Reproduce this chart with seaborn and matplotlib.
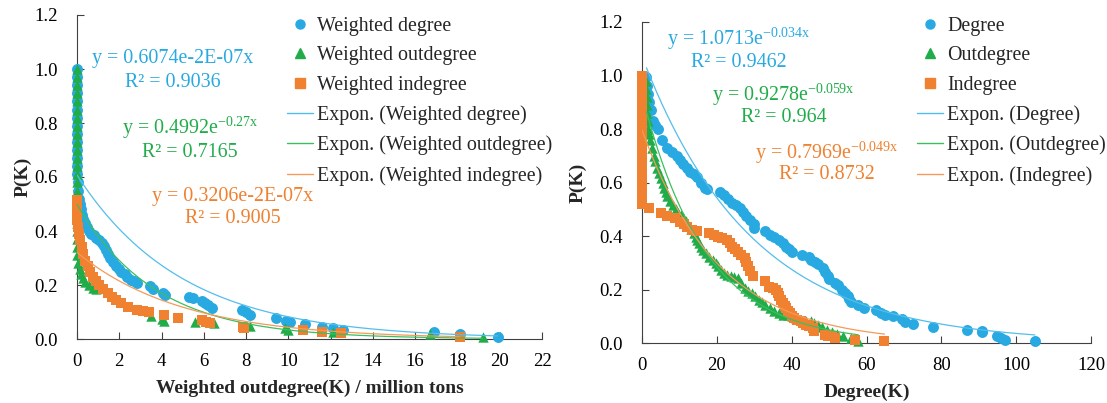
import numpy as np
import matplotlib
matplotlib.use("Agg")
import matplotlib.pyplot as plt
import seaborn as sns
from matplotlib.lines import Line2D

# ---- left panel: weighted degree distributions (million tons) ----
wdeg_x = [0, 0, 0, 0, 0, 0, 0, 0, 0, 0, 0, 0, 0, 0, 0.03, 0.06, 0.1, 0.14, 0.18, 0.22,
          0.27, 0.33, 0.39, 0.47, 0.55, 0.65, 0.79, 0.9, 1.05, 1.2, 1.26, 1.35, 1.45, 1.57,
          1.7, 1.85, 1.97, 2.1, 2.25, 2.36, 2.55, 2.7, 2.83, 3.46, 3.6, 4.05, 4.15, 5.3, 5.5,
          5.9, 6.05, 6.2, 6.4, 7.8, 8.0, 8.2, 9.4, 9.9, 10.1, 10.8, 11.6, 12.1, 12.6, 16.9,
          18.1, 19.9]
wdeg_y = [1.0, 0.97, 0.94, 0.91, 0.88, 0.85, 0.82, 0.79, 0.76, 0.73, 0.70, 0.67, 0.64, 0.61,
          0.58, 0.55, 0.52, 0.50, 0.48, 0.46, 0.445, 0.435, 0.43, 0.415, 0.40, 0.39, 0.385,
          0.375, 0.365, 0.355, 0.345, 0.33, 0.315, 0.30, 0.285, 0.27, 0.26, 0.25, 0.24, 0.23,
          0.22, 0.215, 0.207, 0.195, 0.185, 0.17, 0.163, 0.157, 0.152, 0.14, 0.133, 0.125,
          0.116, 0.108, 0.1, 0.09, 0.078, 0.068, 0.063, 0.056, 0.046, 0.04, 0.034, 0.025,
          0.019, 0.009]

wout_x = [0, 0, 0, 0, 0, 0, 0, 0, 0, 0, 0, 0, 0, 0, 0, 0, 0, 0, 0, 0, 0, 0, 0, 0,
          0.05, 0.12, 0.2, 0.3, 0.4, 0.55, 0.74, 0.9, 3.5, 4.0, 4.1, 5.56, 6.5, 8.2, 9.86,
          10.0, 12.1, 16.7, 19.2]
wout_y = [1.0, 0.97, 0.94, 0.91, 0.88, 0.85, 0.82, 0.79, 0.76, 0.73, 0.70, 0.67, 0.64, 0.61,
          0.58, 0.55, 0.52, 0.49, 0.46, 0.43, 0.40, 0.37, 0.34, 0.31,
          0.28, 0.26, 0.24, 0.225, 0.21, 0.2, 0.19, 0.185, 0.085, 0.075, 0.068, 0.064, 0.058,
          0.05, 0.04, 0.033, 0.027, 0.017, 0.009]

win_x = [0, 0, 0, 0, 0.05, 0.1, 0.15, 0.22, 0.3, 0.4, 0.5, 0.6, 0.75, 0.9, 1.05, 1.25, 1.45,
         1.65, 1.85, 2.1, 2.4, 2.85, 3.1, 3.4, 4.1, 4.8, 5.9, 6.1, 6.3, 7.85, 7.9, 10.7, 11.6,
         12.5, 18.1]
win_y = [0.515, 0.49, 0.465, 0.44, 0.415, 0.39, 0.365, 0.34, 0.315, 0.29, 0.27, 0.25, 0.23,
         0.215, 0.2, 0.185, 0.17, 0.157, 0.145, 0.132, 0.118, 0.108, 0.104, 0.1, 0.089, 0.078,
         0.07, 0.064, 0.058, 0.046, 0.04, 0.033, 0.027, 0.021, 0.009]

# ---- right panel: degree distributions ----
deg_x = [1.2, 1.4, 1.6, 1.8, 2.3, 3.0, 3.6, 4.3, 5.4, 6.6, 8.0, 9.3, 10.2, 11.0, 12.0, 12.8,
         13.8, 14.6, 15.7, 16.8, 17.3, 20.8, 21.8, 23.0, 24.1, 25.2, 26.1, 27.0, 27.8, 28.8,
         29.8, 30.0, 33.0, 34.2, 35.3, 36.5, 37.6, 38.6, 39.4, 40.2, 42.8, 44.5, 45.2, 46.3,
         47.0, 48.5, 49.0, 49.6, 50.0, 51.5, 52.5, 53.5, 54.3, 55.0, 55.3, 55.8, 57.8, 59.2,
         62.5, 64.0, 65.0, 67.2, 69.5, 70.4, 72.3, 77.9, 86.8, 90.8, 91.0, 95.0, 96.0, 97.1,
         105.0]
deg_y = [0.995, 0.96, 0.93, 0.90, 0.87, 0.83, 0.815, 0.80, 0.76, 0.73, 0.715, 0.70, 0.685,
         0.67, 0.655, 0.64, 0.63, 0.62, 0.60, 0.58, 0.575, 0.565, 0.555, 0.54, 0.525, 0.515,
         0.505, 0.49, 0.475, 0.46, 0.445, 0.43, 0.417, 0.405, 0.395, 0.385, 0.372, 0.36, 0.35,
         0.342, 0.33, 0.32, 0.312, 0.303, 0.295, 0.28, 0.265, 0.25, 0.24, 0.225, 0.215, 0.2,
         0.188, 0.175, 0.165, 0.155, 0.143, 0.132, 0.122, 0.113, 0.106, 0.1, 0.09, 0.078, 0.07,
         0.058, 0.05, 0.045, 0.04, 0.028, 0.02, 0.012, 0.006]

out_x = [1.2, 1.2, 1.3, 1.3, 1.4, 1.5, 1.6, 1.8, 2.2, 2.6, 3.1, 3.5, 4.0, 4.5, 5.0, 5.5, 5.9,
         6.4, 6.8, 7.5, 8.2, 9.0, 9.6, 10.3, 11.0, 11.7, 12.4, 13.1, 13.8, 14.3, 14.8, 15.3,
         15.7, 16.4, 17.1, 18.0, 19.0, 19.7, 20.4, 21.1, 21.8, 22.8, 23.7, 24.6, 25.6, 26.5,
         27.4, 28.3, 29.3, 30.2, 31.2, 32.1, 33.0, 34.2, 35.4, 36.5, 37.7, 38.9, 40.0, 41.2,
         42.4, 43.8, 45.2, 46.1, 47.0, 48.0, 49.4, 50.8, 52.2, 53.6, 55.9, 57.8]
out_y = [0.98, 0.95, 0.92, 0.89, 0.86, 0.83, 0.80, 0.78, 0.76, 0.73, 0.70, 0.68, 0.655, 0.635,
         0.615, 0.60, 0.58, 0.565, 0.55, 0.53, 0.515, 0.50, 0.485, 0.478, 0.47, 0.455, 0.44,
         0.425, 0.41, 0.398, 0.386, 0.373, 0.36, 0.348, 0.336, 0.323, 0.311, 0.298, 0.286,
         0.273, 0.261, 0.255, 0.249, 0.246, 0.243, 0.225, 0.205, 0.196, 0.187, 0.175, 0.162,
         0.152, 0.143, 0.13, 0.118, 0.112, 0.106, 0.103, 0.1, 0.094, 0.087, 0.084, 0.081,
         0.074, 0.068, 0.06, 0.05, 0.04, 0.032, 0.025, 0.019, 0.006]

in_x = [0, 0, 0, 0, 0, 0, 0, 0, 0, 0, 0, 0, 0, 0, 0, 0, 0, 2.0, 5.0, 6.8, 8.7, 10.1, 11.2,
        12.0, 13.4, 14.8, 18.0, 19.3, 20.4, 21.5, 22.7, 23.5, 24.1, 24.9, 25.6, 26.5, 27.4,
        27.9, 28.4, 28.8, 29.7, 33.0, 34.0, 35.0, 35.8, 36.3, 36.7, 37.2, 37.7, 38.2, 38.6,
        39.0, 39.5, 40.0, 40.5, 41.5, 42.4, 43.1, 43.8, 44.7, 45.6, 46.1, 48.9, 49.8, 50.8,
        51.5, 56.9, 64.8]
in_y = [1.0, 0.97, 0.94, 0.91, 0.88, 0.85, 0.82, 0.79, 0.76, 0.73, 0.70, 0.67, 0.64, 0.61,
        0.58, 0.55, 0.52, 0.505, 0.485, 0.473, 0.466, 0.454, 0.445, 0.435, 0.423, 0.417, 0.41,
        0.404, 0.398, 0.392, 0.386, 0.373, 0.36, 0.351, 0.342, 0.33, 0.317, 0.301, 0.286,
        0.27, 0.249, 0.23, 0.21, 0.205, 0.199, 0.186, 0.174, 0.161, 0.149, 0.14, 0.131, 0.121,
        0.112, 0.102, 0.093, 0.087, 0.081, 0.075, 0.068, 0.062, 0.056, 0.044, 0.031, 0.028,
        0.025, 0.019, 0.012, 0.006]

# exponential trendline coefficients (a, b) as printed on the chart (b per million tons on the left)
left_fits = [(0.6074, 0.2), (0.4992, 0.27), (0.3206, 0.2)]
right_fits = [(1.0713, 0.034), (0.9278, 0.059), (0.7969, 0.049)]

left_eqs = ["y = 0.6074e-2E-07x", r"y = 0.4992e$^{\mathregular{-0.27x}}$", "y = 0.3206e-2E-07x"]
left_r2 = ["R² = 0.9036", "R² = 0.7165", "R² = 0.9005"]
right_eqs = [r"y = 1.0713e$^{\mathregular{-0.034x}}$", r"y = 0.9278e$^{\mathregular{-0.059x}}$",
             r"y = 0.7969e$^{\mathregular{-0.049x}}$"]
right_r2 = ["R² = 0.9462", "R² = 0.964", "R² = 0.8732"]

left_names = ["Weighted degree", "Weighted outdegree", "Weighted indegree"]
right_names = ["Degree", "Outdegree", "Indegree"]

colors = ["#29A9E1", "#21AC4A", "#EF8130"]
line_colors = ["#52BEEC", "#3CBF5E", "#F49A5A"]
markers = ["o", "^", "s"]
sizes = [62, 56, 50]

sns.set_style("ticks")
plt.rcParams["font.family"] = ["Liberation Serif", "DejaVu Serif"]
plt.rcParams["mathtext.fontset"] = "custom"
plt.rcParams["mathtext.rm"] = "Liberation Serif"

fig = plt.figure(figsize=(11.07, 4.03), dpi=100)
ax1 = fig.add_axes([77 / 1107, 64 / 403, 465 / 1107, 324 / 403])
ax2 = fig.add_axes([642 / 1107, 60 / 403, 449 / 1107, 321 / 403])

FS = 14.4


def draw_panel(ax, series, fits, eqs, r2s, names, txt_pos, xmax, xstep, xlabel, leg_x, ypad):
    for i, (xs, ys) in enumerate(series):
        sns.scatterplot(x=xs, y=ys, ax=ax, marker=markers[i], color=colors[i], s=sizes[i],
                        linewidth=0, clip_on=False, zorder=3)
    for i, (xs, ys) in enumerate(series):
        a, b = fits[i]
        xx = np.linspace(min(xs), max(xs), 300)
        ax.plot(xx, a * np.exp(-b * xx), color=line_colors[i], lw=0.9, zorder=4)
    for i in range(3):
        tx, ty1, ty2 = txt_pos[i]
        ax.text(tx, ty1, eqs[i], color=colors[i], fontsize=FS, ha="center", va="center")
        ax.text(tx, ty2, r2s[i], color=colors[i], fontsize=FS, ha="center", va="center")

    ax.set_xlim(0, xmax)
    ax.set_ylim(0, 1.2)
    ax.set_xticks(np.arange(0, xmax + 0.1, xstep))
    ax.set_yticks(np.arange(0, 1.21, 0.2))
    ax.yaxis.set_major_formatter(matplotlib.ticker.FormatStrFormatter("%.1f"))
    ax.tick_params(direction="in", length=5, width=0.8, color="#404040", labelsize=13.5,
                   labelcolor="black")
    ax.tick_params(axis="y", pad=14)
    ax.tick_params(axis="x", pad=10)
    for sp in ["left", "bottom"]:
        ax.spines[sp].set_color("#404040")
        ax.spines[sp].set_linewidth(0.8)
    sns.despine(ax=ax)
    ax.set_xlabel(xlabel, fontsize=14, fontweight="bold", labelpad=7)
    ax.set_ylabel("P(K)", fontsize=14, fontweight="bold", labelpad=ypad)

    handles = [Line2D([], [], ls="none", marker=markers[i], color=colors[i], markersize=6.5)
               for i in range(3)]
    handles += [Line2D([], [], color=line_colors[i], lw=1) for i in range(3)]
    labels = names + ["Expon. (" + n + ")" for n in names]
    fig.legend(handles, labels, loc="upper left", bbox_to_anchor=(leg_x, 0.959),
               frameon=False, fontsize=FS, handlelength=1.3, handletextpad=0.2,
               labelspacing=0.53, borderpad=0, borderaxespad=0)


draw_panel(ax1, [(wdeg_x, wdeg_y), (wout_x, wout_y), (win_x, win_y)], left_fits,
           left_eqs, left_r2, left_names,
           [(4.52, 1.038, 0.951), (5.36, 0.784, 0.692), (7.36, 0.527, 0.445)],
           22, 2, "Weighted outdegree(K) / million tons", 287 / 1107, 2)
draw_panel(ax2, [(deg_x, deg_y), (out_x, out_y), (in_x, in_y)], right_fits,
           right_eqs, right_r2, right_names,
           [(25.8, 1.137, 1.05), (37.8, 0.927, 0.842), (49.3, 0.713, 0.63)],
           120, 20, "Degree(K)", 917 / 1107, 9)

fig.savefig("out.png", dpi=100)
